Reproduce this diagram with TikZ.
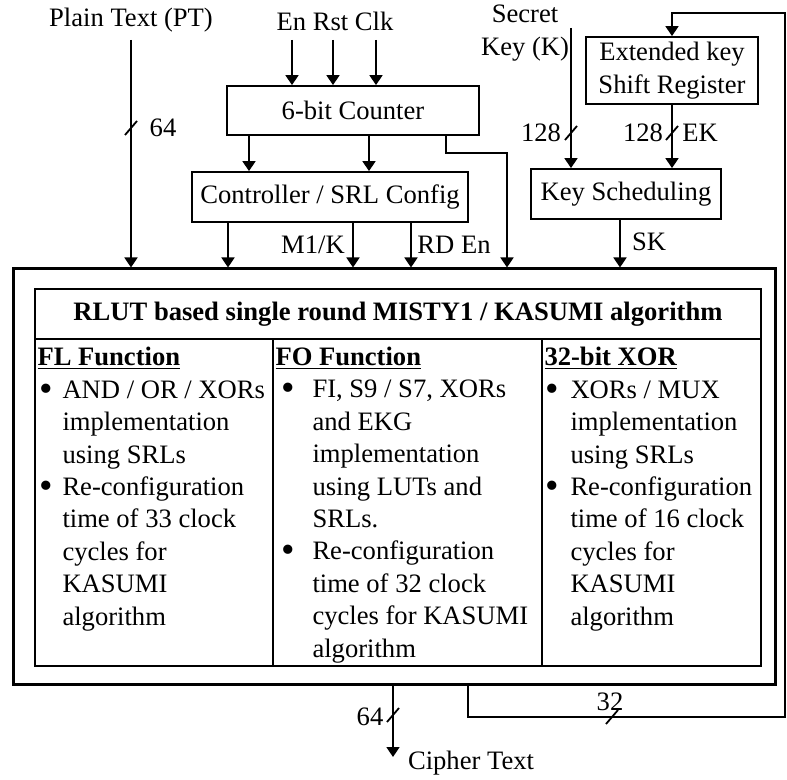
\documentclass[tikz,border=0pt]{standalone}
\usepackage{fontspec}
\setmainfont{Liberation Serif}
\usetikzlibrary{arrows.meta}

\newcommand{\fs}{\fontsize{13.3}{16.2}\selectfont}
\newcommand{\bul}[1]{\llap{\raisebox{-1.5pt}{\scalebox{1.45}{\textbullet}}\hspace{#1}}}

\tikzset{
  blk/.style={draw, line width=0.9pt, inner sep=0pt, align=center},
  body/.style={inner sep=0pt, align=left, anchor=base west},
  head/.style={inner sep=0pt, anchor=base west, font=\fs\bfseries},
  sig/.style={line width=0.9pt, -{Triangle[width=6.5pt,length=5pt]}},
  buswidth/.pic={\draw[line width=0.9pt] (-6,7) -- (6,-7);}
}

\begin{document}
\begin{tikzpicture}[x=0.5pt, y=-0.5pt, every node/.style={font=\fs}]
\useasboundingbox (0,0) rectangle (787,780);

% Control blocks
\node[blk, minimum width=126pt, minimum height=24.5pt] (cnt) at (353,110.5) {6-bit Counter};
\node[blk, minimum width=138pt, minimum height=25pt] (ctrl) at (330,197) {Controller / SRL Config};

% Key blocks
\node[blk, minimum width=86pt, minimum height=33.5pt] (eksr) at (672,70.5) {Extended key\\Shift Register};
\node[blk, minimum width=95pt, minimum height=25pt] (ks) at (626,194) {Key Scheduling};

% Round datapath
\node[blk, line width=1.5pt, minimum width=381pt, minimum height=207.5pt] (outer) at (394,476.5) {};
\node[blk, minimum width=363pt, minimum height=25pt, font=\fs\bfseries] (title) at (398,314) {RLUT based single round MISTY1 / KASUMI algorithm};
\node[blk, minimum width=119pt, minimum height=163.5pt] (fl) at (154,502.5) {};
\node[blk, minimum width=134.5pt, minimum height=163.5pt] (fo) at (407.5,502.5) {};
\node[blk, minimum width=109.5pt, minimum height=163.5pt] (xr) at (651.5,502.5) {};

% Column contents (base = last line)
\node[head] (flh) at ([xshift=1.5pt, yshift=-13.5pt]fl.north west) {\underline{FL Function}};
\node[head] (foh) at ([xshift=1.5pt, yshift=-13.5pt]fo.north west) {\underline{FO Function}};
\node[head] (xrh) at ([xshift=1.5pt, yshift=-13.5pt]xr.north west) {\underline{32-bit XOR}};
\node[body] (flt) at ([xshift=14pt, yshift=-143.5pt]fl.north west)
  {\bul{4.5pt}AND / OR / XORs\\implementation\\using SRLs\\
   \bul{4.5pt}Re-configuration\\time of 33 clock\\cycles for\\KASUMI\\algorithm};
\node[body] (fot) at ([xshift=20pt, yshift=-159.5pt]fo.north west)
  {\bul{8.5pt}FI, S9 / S7, XORs\\and EKG\\implementation\\using LUTs and\\SRLs.\\
   \bul{8.5pt}Re-configuration\\time of 32 clock\\cycles for KASUMI\\algorithm};
\node[body] (xrt) at ([xshift=14.5pt, yshift=-143.5pt]xr.north west)
  {\bul{6pt}XORs / MUX\\implementation\\using SRLs\\
   \bul{6pt}Re-configuration\\time of 16 clock\\cycles for\\KASUMI\\algorithm};

% Inputs and outputs
\node (pt) at (131,20) {Plain Text (PT)};
\node (ctlin) at (335,21) {En Rst Clk};
\node[align=center] (key) at (525,33) {Secret\\Key (K)};
\node (ct) at (471,763) {Cipher Text};

% Signal labels
\node (w64a) at (163,128) {64};
\node (w128a) at (541,133) {128};
\node (w128b) at (643,133) {128};
\node (wek) at (700,133) {EK};
\node (wm1) at (313,245) {M1/K};
\node (wrd) at (454,245) {RD En};
\node (wsk) at (649,242) {SK};
\node (w64b) at (370,717) {64};
\node (w32) at (610,702) {32};

% Control path
\draw[sig] (131,40) -- (131,0 |- outer.north);
\foreach \x in {292,333,376} \draw[sig] (\x,40) -- (\x,0 |- cnt.north);
\foreach \x in {249,369} \draw[sig] (\x,0 |- cnt.south) -- (\x,0 |- ctrl.north);
\foreach \x in {228,353,411} \draw[sig] (\x,0 |- ctrl.south) -- (\x,0 |- outer.north);
\draw[sig] (446,0 |- cnt.south) -- (446,153) -- (507,153) -- (507,0 |- outer.north);

% Key path
\draw[sig] (571,28) -- (571,0 |- ks.north);
\draw[sig] (eksr.south) -- (eksr.south |- ks.north);
\draw[sig] (620,0 |- ks.south) -- (620,0 |- outer.north);

% Outputs and feedback
\draw[sig] (393,0 |- outer.south) -- (393,757);
\draw[sig] (468,0 |- outer.south) -- (468,717) -- (785,717) -- (785,13) -- (672,13) -- (eksr.north);

% Bus widths
\foreach \p in {{131,128},{571,133},{672,133},{393,715},{612,717}}
  \pic at (\p) {buswidth};
\end{tikzpicture}
\end{document}
